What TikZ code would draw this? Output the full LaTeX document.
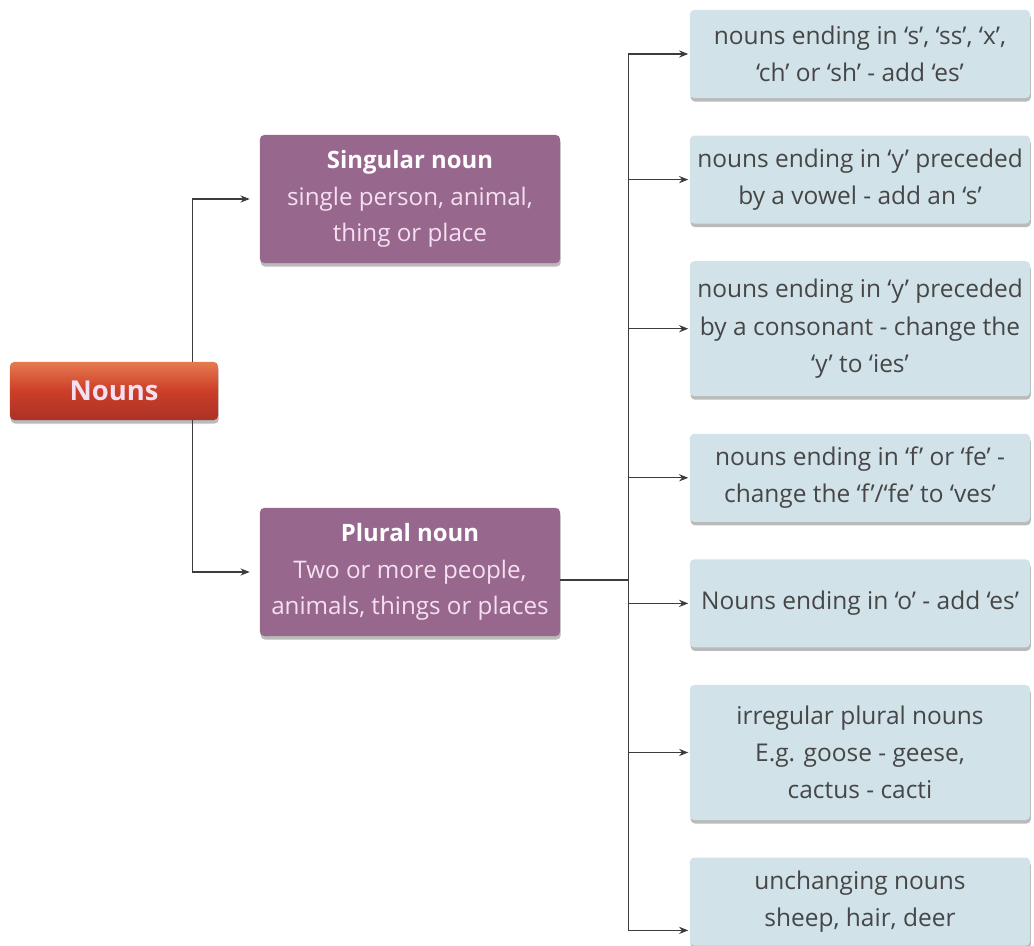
\documentclass[tikz,border=0pt]{standalone}
\usepackage{fontspec}
\setmainfont{Open Sans}
\usetikzlibrary{arrows.meta, positioning, shadows}
\definecolor{nounred}{RGB}{204,62,40}
\definecolor{nountop}{RGB}{230,122,80}
\definecolor{nounbot}{RGB}{170,50,38}
\definecolor{kindpurple}{RGB}{152,103,142}
\definecolor{kindtext}{RGB}{244,224,240}
\definecolor{rulefill}{RGB}{209,226,233}
\definecolor{ruletext}{RGB}{70,70,70}
\definecolor{linkgray}{RGB}{60,60,60}

\begin{document}
\begin{tikzpicture}[
    x=0.025cm, y=-0.025cm,
    node distance=0.925cm,
    rootbox/.style={rectangle, rounded corners=3pt, top color=nountop, bottom color=nounbot, middle color=nounred, minimum width=5.2cm, minimum height=1.45cm, font=\fontsize{19.5}{22}\selectfont\bfseries, text=kindtext, drop shadow={shadow xshift=0.5pt, shadow yshift=-2.5pt, fill=black!45, opacity=0.6}},
    kindbox/.style={rectangle, rounded corners=3pt, fill=kindpurple, minimum width=7.5cm, minimum height=3.2cm, align=center, font=\fontsize{17.2}{26}\selectfont, text=kindtext, drop shadow={shadow xshift=0.5pt, shadow yshift=-2.5pt, fill=black!45, opacity=0.6}},
    rulebox/.style={rectangle, rounded corners=3pt, fill=rulefill, minimum width=8.5cm, minimum height=2.2cm, align=center, font=\fontsize{17.4}{26.5}\selectfont, text=ruletext, drop shadow={shadow xshift=0.5pt, shadow yshift=-2.5pt, fill=black!45, opacity=0.6}},
    tallbox/.style={rulebox, minimum height=3.375cm},
    link/.style={linkgray, line width=0.8pt},
    arrow/.style={link, -{Stealth[length=2.3mm, width=1.8mm]}, shorten >=1pt},
]
    \useasboundingbox (0,0) rectangle (1034,946);

    % Root and the two kinds
    \node[rootbox] (nouns) at (114,391) {Nouns};
    \node[kindbox] (singular) at (410,199) {{\fontsize{17}{26}\selectfont\bfseries\color{white}Singular noun}\\single person, animal,\\thing or place};
    \node[kindbox] (plural) at (410,572) {{\fontsize{17}{26}\selectfont\bfseries\color{white}Plural noun}\\Two or more people,\\animals, things or places};

    % Plural rules (right column)
    \node[rulebox] (r1) at (860,54) {nouns ending in ‘s’, ‘ss’, ‘x’,\\‘ch’ or ‘sh’ - add ‘es’};
    \node[rulebox, below=of r1] (r2) {nouns ending in ‘y’ preceded\\by a vowel - add an ‘s’};
    \node[tallbox, below=of r2] (r3) {nouns ending in ‘y’ preceded\\by a consonant - change the\\‘y’ to ‘ies’};
    \node[rulebox, below=of r3] (r4) {nouns ending in ‘f’ or ‘fe’ -\\change the ‘f’/‘fe’ to ‘ves’};
    \node[rulebox, below=of r4] (r5) {Nouns ending in ‘o’ - add ‘es’};
    \node[tallbox, below=of r5] (r6) {irregular plural nouns\\E.g. goose - geese,\\cactus - cacti};
    \node[rulebox, below=of r6] (r7) {unchanging nouns\\sheep, hair, deer};

    % Connectors
    \draw[arrow, shorten >=0.25cm] ([xshift=-0.65cm]nouns.north east) |- (singular.west);
    \draw[arrow, shorten >=0.25cm] ([xshift=-0.65cm]nouns.south east) |- (plural.west);

    \coordinate (bus) at ([xshift=1.7cm, yshift=-0.2cm]plural.east);
    \coordinate (r7in) at ([yshift=-0.72cm]r7.west);
    \draw[link] ([yshift=-0.2cm]plural.east) -- (bus);
    \foreach \i in {1,...,6}
        \draw[arrow] (bus) |- (r\i.west);
    \draw[arrow] (bus) |- (r7in);
\end{tikzpicture}
\end{document}
